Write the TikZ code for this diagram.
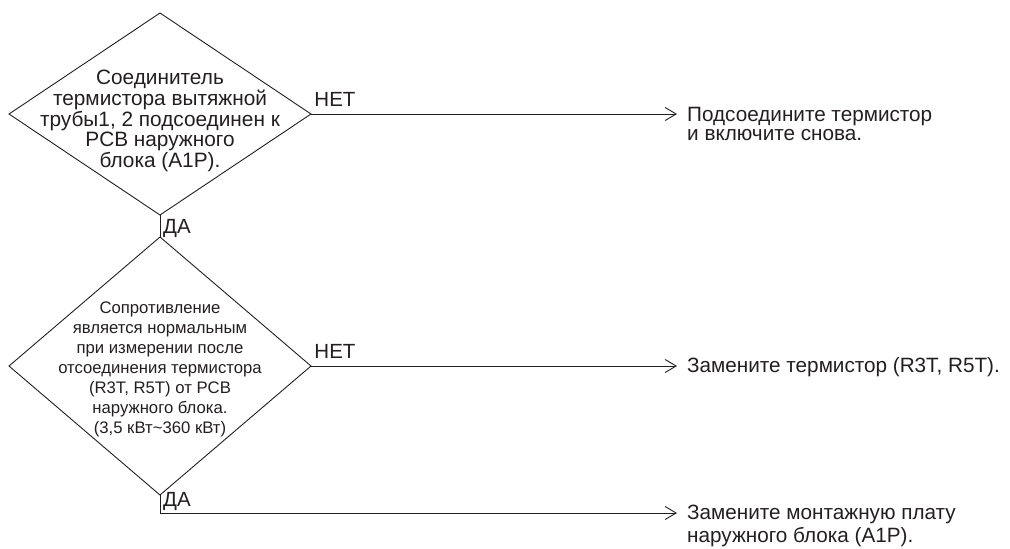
\documentclass[tikz,border=0pt]{standalone}
\usepackage{fontspec}
\setmainfont{Liberation Sans}
\usepackage{xcolor}
\usetikzlibrary{shapes.geometric, arrows.meta, positioning}
\definecolor{ink}{HTML}{231F20}

\begin{document}
\begin{tikzpicture}[x=1pt, y=-1pt,
	every node/.style={text=ink},
	decision/.style={draw=ink, diamond, line width=0.9pt, inner sep=0pt, outer sep=0pt, minimum width=302pt},
	answer/.style={inner xsep=10pt, inner ysep=0pt, align=left, font=\fontsize{20.7}{19.5}\selectfont},
	yesno/.style={font=\fontsize{20.5}{20}\selectfont, inner xsep=3pt, inner ysep=0pt},
	flow/.style={draw=ink, line width=0.9pt, -{Straight Barb[length=11pt, width=13pt, line width=0.9pt]}}
	]
				\useasboundingbox (0,0) rectangle (1010,549);
				\node[decision, minimum height=202pt] (vent) at (160,114) {};
				\node[font=\fontsize{20.8}{20.8}\selectfont, align=center] (ventq) at ([yshift=-7pt]vent.center) {Соединитель\\термистора вытяжной\\трубы1, 2 подсоединен к\\PCB наружного\\блока (A1P).};
				\node[decision, minimum height=258pt] (ohm) at (160,366) {};
				\node[font=\fontsize{16.7}{20}\selectfont, align=center] (ohmq) at ([yshift=-3.5pt]ohm.center) {Сопротивление\\является нормальным\\при измерении после\\отсоединения термистора\\(R3T, R5T) от PCB\\наружного блока.\\(3,5 кВт\textasciitilde360 кВт)};
				\node[answer, anchor=north west] (plug) at (677,107) {Подсоедините термистор\\и включите снова.};
				\node[answer, anchor=west] (swap) at (677,367) {Замените термистор (R3T, R5T).};
				\node[answer, anchor=north west, font=\fontsize{20.7}{22.5}\selectfont] (board) at (677,505) {Замените монтажную плату\\наружного блока (A1P).};
				\draw[flow] (vent.east) node[yesno, anchor=south west, inner ysep=7pt] (no1) {НЕТ} -- (vent.east -| plug.west);
				\draw[ink, line width=0.9pt] (vent.south) -- (ohm.north);
				\node[yesno, anchor=north west] (yes1) at ([yshift=-4pt]vent.south) {ДА};
				\draw[flow] (ohm.east) node[yesno, anchor=south west, inner ysep=7pt] (no2) {НЕТ} -- (ohm.east -| swap.west);
				\node[yesno, anchor=north west] (yes2) at ([yshift=3pt]ohm.south) {ДА};
				\draw[flow] (ohm.south) |- ([yshift=-8pt]board.north west);
\end{tikzpicture}
\end{document}
